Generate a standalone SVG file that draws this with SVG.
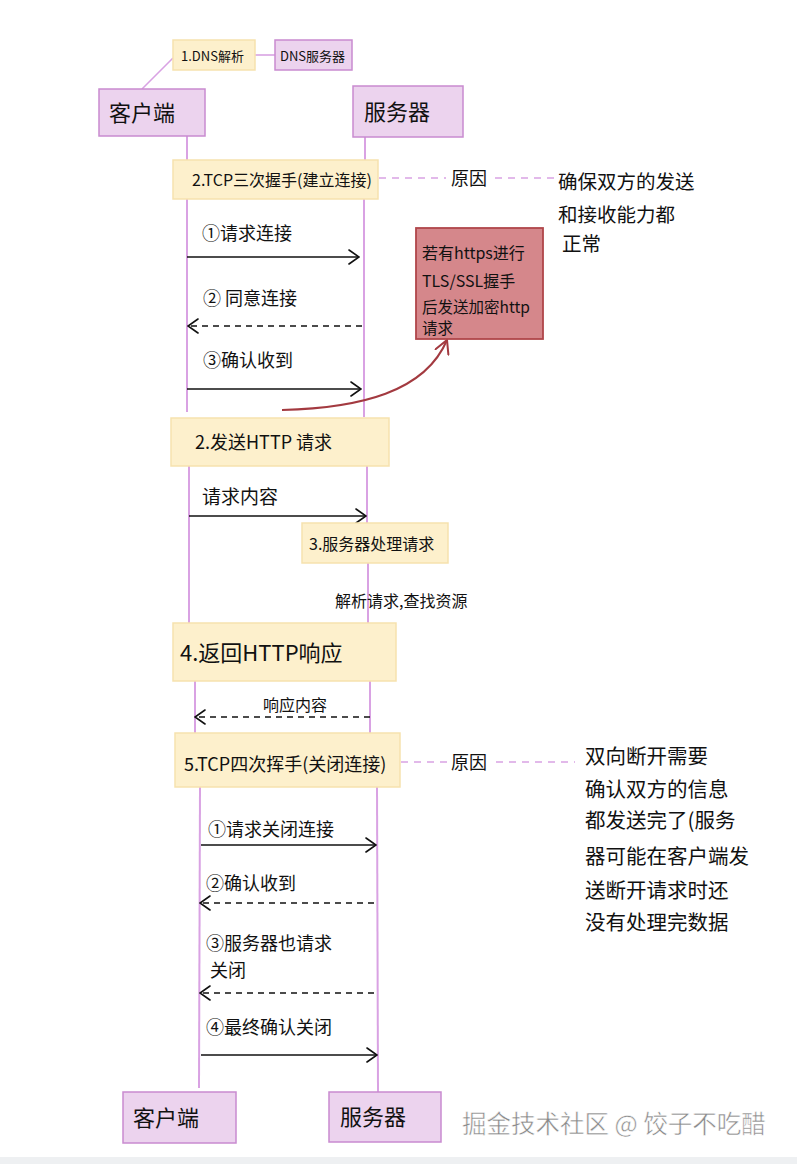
<svg xmlns="http://www.w3.org/2000/svg" width="797" height="1164" viewBox="0 0 797 1164">
<style>
text{font-family:"Noto Sans CJK SC","Noto Sans",sans-serif;fill:#111}
.y{fill:#fdf0cc;stroke:#f6e2ae;stroke-width:1.5}
.p{fill:#ecd3ee;stroke:#c98bd0;stroke-width:1.5}
.life{stroke:#d9a2e3;stroke-width:2;fill:none}
.dl{stroke:#d9a2e3;stroke-width:1.6;stroke-dasharray:7 6;fill:none}
.sa{stroke:#111;stroke-width:1.6;fill:none}
.da{stroke:#111;stroke-width:1.6;stroke-dasharray:6 5;fill:none}
.t18{font-size:18px}
.t19{font-size:19.5px}
.t16{font-size:16px}
.wm{font-size:24.5px;fill:#8a8a8a}
</style>
<defs>
<marker id="ah" viewBox="0 0 12 16" refX="11" refY="8" markerWidth="12" markerHeight="16" markerUnits="userSpaceOnUse" orient="auto">
<path d="M1,1 L11,8 L1,15" fill="none" stroke="#111" stroke-width="1.6" stroke-linecap="round"/>
</marker>
<marker id="ahr" viewBox="0 0 16 16" refX="14" refY="8" markerWidth="16" markerHeight="16" markerUnits="userSpaceOnUse" orient="auto">
<path d="M1,1 L14,8 L1,15" fill="none" stroke="#a33a40" stroke-width="2" stroke-linecap="round"/>
</marker>
</defs>
<rect x="0" y="0" width="797" height="1164" fill="#ffffff"/>
<rect x="0" y="1157" width="797" height="7" fill="#eef0f2"/>

<g id="connectors">
<line x1="173" y1="58" x2="142" y2="89" stroke="#d9a2e3" stroke-width="1.6"/>
<line x1="255" y1="55" x2="275" y2="55" stroke="#d9a2e3" stroke-width="1.6"/>
<line class="life" x1="187" y1="136" x2="187" y2="160"/>
<line class="life" x1="187" y1="199" x2="187" y2="412"/>
<line class="life" x1="189" y1="466" x2="189" y2="623"/>
<line class="life" x1="195" y1="681" x2="195" y2="733"/>
<line class="life" x1="200" y1="787" x2="199" y2="1088"/>
<line class="life" x1="365" y1="137" x2="365" y2="160"/>
<line class="life" x1="364" y1="199" x2="364" y2="417"/>
<line class="life" x1="367" y1="466" x2="367" y2="523"/>
<line class="life" x1="368" y1="563" x2="368" y2="623"/>
<line class="life" x1="370" y1="681" x2="370" y2="733"/>
<line class="life" x1="377" y1="787" x2="378" y2="1092"/>
<line class="dl" x1="379" y1="178" x2="446" y2="178"/>
<line class="dl" x1="495" y1="178" x2="555" y2="178"/>
<line class="dl" x1="401" y1="762" x2="448" y2="762"/>
<line class="dl" x1="496" y1="762" x2="575" y2="762"/>
<line class="sa" x1="187" y1="257" x2="359" y2="257" marker-end="url(#ah)"/>
<line class="da" x1="362" y1="326" x2="188" y2="326" marker-end="url(#ah)"/>
<line class="sa" x1="187" y1="389" x2="361" y2="389" marker-end="url(#ah)"/>
<line class="sa" x1="189" y1="516" x2="366" y2="516" marker-end="url(#ah)"/>
<line class="da" x1="370" y1="717" x2="195" y2="717" marker-end="url(#ah)"/>
<line class="sa" x1="201" y1="845" x2="376" y2="845" marker-end="url(#ah)"/>
<line class="da" x1="374" y1="903" x2="200" y2="903" marker-end="url(#ah)"/>
<line class="da" x1="374" y1="993" x2="200" y2="993" marker-end="url(#ah)"/>
<line class="sa" x1="201" y1="1055" x2="377" y2="1055" marker-end="url(#ah)"/>
<path d="M282,410 C360,408 425,392 447,340" fill="none" stroke="#a33a40" stroke-width="2" marker-end="url(#ahr)"/>
</g>

<g id="dns">
<rect class="y" x="173" y="40" width="82" height="30"/>
<text x="181" y="61" style="font-size:13px">1.DNS解析</text>
</g>
<g id="dns-server">
<rect class="p" x="275" y="40" width="77" height="30"/>
<text x="280" y="61" style="font-size:13px">DNS服务器</text>
</g>
<g id="client-top">
<rect class="p" x="99" y="89" width="106" height="47"/>
<text x="109" y="121" style="font-size:22px">客户端</text>
</g>
<g id="server-top">
<rect class="p" x="353" y="86" width="110" height="51"/>
<text x="364" y="120" style="font-size:22px">服务器</text>
</g>

<g id="tcp3">
<rect class="y" x="173" y="160" width="205" height="39"/>
<text x="192" y="186" class="t16">2.TCP三次握手(建立连接)</text>
</g>
<g id="reason1">
<text x="451" y="185" class="t18">原因</text>
<text x="558" y="189" class="t19">确保双方的发送</text>
<text x="558" y="222" class="t19">和接收能力都</text>
<text x="562" y="251" class="t19">正常</text>
</g>
<g id="tls">
<rect x="416" y="228" width="127" height="111" fill="#d5878b" stroke="#b0464a" stroke-width="1.8"/>
<text x="422" y="259" style="font-size:16px">若有https进行</text>
<text x="422" y="287" style="font-size:16px">TLS/SSL握手</text>
<text x="422" y="313" style="font-size:15.5px">后发送加密http</text>
<text x="422" y="334" style="font-size:15.5px">请求</text>
</g>
<g id="lbl-tcp3">
<text x="202" y="240" class="t18">①请求连接</text>
<text x="203" y="305" class="t18">② 同意连接</text>
<text x="203" y="367" class="t18">③确认收到</text>
</g>

<g id="send-http">
<rect class="y" x="171" y="418" width="218" height="48"/>
<text x="195" y="449" class="t18">2.发送HTTP 请求</text>
</g>
<text x="202" y="504" style="font-size:19px">请求内容</text>
<g id="server-process">
<rect class="y" x="302" y="523" width="146" height="40"/>
<text x="309" y="550" class="t16">3.服务器处理请求</text>
</g>
<text x="335" y="607" class="t16">解析请求,查找资源</text>
<g id="return-http">
<rect class="y" x="173" y="623" width="223" height="58"/>
<text x="180" y="661" style="font-size:22px">4.返回HTTP响应</text>
</g>
<text x="263" y="711" class="t16">响应内容</text>

<g id="tcp4">
<rect class="y" x="175" y="733" width="225" height="54"/>
<text x="184" y="771" class="t18">5.TCP四次挥手(关闭连接)</text>
</g>
<g id="reason2">
<text x="451" y="769" class="t18">原因</text>
<text x="585" y="764" style="font-size:20.5px">双向断开需要</text>
<text x="585" y="797" style="font-size:20.5px">确认双方的信息</text>
<text x="585" y="828" style="font-size:20.5px">都发送完了(服务</text>
<text x="585" y="864" style="font-size:20.5px">器可能在客户端发</text>
<text x="585" y="898" style="font-size:20.5px">送断开请求时还</text>
<text x="585" y="930" style="font-size:20.5px">没有处理完数据</text>
</g>
<g id="lbl-tcp4">
<text x="208" y="836" class="t18">①请求关闭连接</text>
<text x="206" y="890" class="t18">②确认收到</text>
<text x="206" y="950" class="t18">③服务器也请求</text>
<text x="210" y="977" class="t18">关闭</text>
<text x="206" y="1034" class="t18">④最终确认关闭</text>
</g>

<g id="client-bottom">
<rect class="p" x="123" y="1092" width="113" height="51"/>
<text x="133" y="1126" style="font-size:22px">客户端</text>
</g>
<g id="server-bottom">
<rect class="p" x="329" y="1092" width="112" height="50"/>
<text x="340" y="1125" style="font-size:22px">服务器</text>
</g>
<text x="462" y="1133" class="wm" style="stroke:#ffffff;stroke-width:0.5">掘金技术社区 @ 饺子不吃醋</text>
</svg>
